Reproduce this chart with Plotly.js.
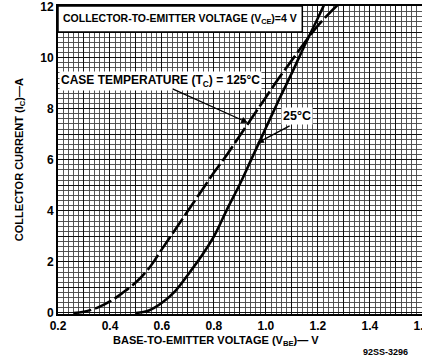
<!DOCTYPE html>
<html>
<head>
<meta charset="utf-8">
<script src="https://cdn.plot.ly/plotly-3.0.1.min.js"></script>
<style>
html,body{margin:0;padding:0;background:#fff;overflow:hidden;}
#chart{width:422px;height:359px;}
</style>
</head>
<body>
<div id="chart"></div>
<script>
// Base-to-emitter voltage (V) and collector current (A)
var volt125 = [0.26,0.30,0.35,0.40,0.45,0.50,0.55,0.60,0.65,0.70,0.75,0.80,0.85,0.90,0.95,1.00,1.05,1.10,1.15,1.20,1.25,1.28];
var ic125   = [0,0.05,0.2,0.45,0.8,1.2,1.75,2.5,3.25,4.0,4.75,5.5,6.2,6.95,7.7,8.45,9.2,9.9,10.6,11.25,11.8,12.1];
var volt25  = [0.50,0.55,0.60,0.65,0.70,0.75,0.80,0.85,0.90,0.95,1.00,1.05,1.10,1.15,1.20,1.23];
var ic25    = [0,0.1,0.4,0.85,1.5,2.2,3.0,4.05,5.05,6.15,7.25,8.35,9.4,10.5,11.55,12.2];

var xTickVals = [0.2,0.3,0.4,0.5,0.6,0.7,0.8,0.9,1.0,1.1,1.2,1.3,1.4,1.5,1.6];
var xTickText = ['0.2','','0.4','','0.6','','0.8','','1.0','','1.2','','1.4','','1.6'];
var yTickVals = [0,1,2,3,4,5,6,7,8,9,10,11,12];
var yTickText = ['0','','2','','4','','6','','8','','10','','12'];

var FONT = 'Liberation Sans, Arial, sans-serif';

var traces = [
  {x: volt125, y: ic125, mode: 'lines', name: 'TC = 125°C',
   line: {color: '#000', width: 2.6, dash: '18px,4px', shape: 'spline'}},
  {x: volt25, y: ic25, mode: 'lines', name: 'TC = 25°C',
   line: {color: '#000', width: 2.6, shape: 'spline'}}
];

var layout = {
  width: 422, height: 359,
  margin: {l: 58, r: 0, t: 6, b: 45},
  paper_bgcolor: '#fff', plot_bgcolor: '#fff',
  showlegend: false,
  font: {family: FONT, color: '#000'},
  xaxis: {
    range: [0.2, 1.6005], tickmode: 'array', tickvals: xTickVals, ticktext: xTickText,
    ticklabeloverflow: 'allow',
    showgrid: true, gridcolor: '#111', gridwidth: 1,
    minor: {dtick: 0.02, tick0: 0.2, showgrid: true, gridcolor: '#444', gridwidth: 0.9},
    showline: true, linecolor: '#000', linewidth: 2, mirror: true,
    ticks: '', zeroline: false,
    tickfont: {size: 12, family: FONT, weight: 'bold'}
  },
  yaxis: {
    range: [-0.04, 12.02], tickmode: 'array', tickvals: yTickVals, ticktext: yTickText,
    ticklabeloverflow: 'allow',
    showgrid: true, gridcolor: '#111', gridwidth: 1,
    minor: {dtick: 0.2, tick0: 0, showgrid: true, gridcolor: '#444', gridwidth: 0.9},
    showline: true, linecolor: '#000', linewidth: 2, mirror: true,
    ticks: '', zeroline: false,
    tickfont: {size: 12, family: FONT, weight: 'bold'}
  },
  shapes: [
    {type: 'rect', xref: 'x', yref: 'y', x0: 0.2, x1: 1.14, y0: 11.0, y1: 12.02,
     fillcolor: '#fff', line: {color: '#000', width: 1.5}, layer: 'above'}
  ],
  annotations: [
    {xref: 'x', yref: 'y', x: 0.212, y: 11.5, xanchor: 'left', yanchor: 'middle', showarrow: false,
     text: 'COLLECTOR-TO-EMITTER VOLTAGE (V<sub>CE</sub>)=4 V',
     font: {size: 10.5, family: FONT, weight: 'bold'}},
    {xref: 'x', yref: 'y', x: 0.202, y: 9.1, xanchor: 'left', yanchor: 'middle', showarrow: false,
     text: 'CASE TEMPERATURE (T<sub>C</sub>) = 125°C', bgcolor: '#fff',
     font: {size: 12, family: FONT, weight: 'bold'}},
    {xref: 'x', yref: 'y', x: 0.93, y: 7.45, axref: 'x', ayref: 'y', ax: 0.635, ay: 8.8,
     text: '', showarrow: true, arrowhead: 2, arrowsize: 1, arrowwidth: 1.3, arrowcolor: '#000'},
    {xref: 'x', yref: 'y', x: 1.12, y: 7.7, xanchor: 'center', yanchor: 'middle', showarrow: false,
     text: '25°C', bgcolor: '#fff',
     font: {size: 12.5, family: FONT, weight: 'bold'}},
    {xref: 'x', yref: 'y', x: 0.967, y: 6.66, axref: 'x', ayref: 'y', ax: 1.097, ay: 7.36,
     text: '', showarrow: true, arrowhead: 2, arrowsize: 1, arrowwidth: 1.3, arrowcolor: '#000'},
    {xref: 'paper', yref: 'paper', x: 0.435, y: -0.088, xanchor: 'center', yanchor: 'middle', showarrow: false,
     text: 'BASE-TO-EMITTER VOLTAGE (V<sub>BE</sub>)— V',
     font: {size: 11, family: FONT, weight: 'bold'}},
    {xref: 'paper', yref: 'paper', x: -0.104, y: 0.5, xanchor: 'center', yanchor: 'middle', showarrow: false,
     textangle: -90, text: 'COLLECTOR CURRENT (I<sub>C</sub>)—A',
     font: {size: 11, family: FONT, weight: 'bold'}},
    {xref: 'paper', yref: 'paper', x: 0.967, y: -0.122, xanchor: 'right', yanchor: 'middle', showarrow: false,
     text: '92SS-3296', font: {size: 9, family: FONT, weight: 'bold'}}
  ]
};

Plotly.newPlot('chart', traces, layout, {staticPlot: true, displayModeBar: false});
</script>
</body>
</html>
